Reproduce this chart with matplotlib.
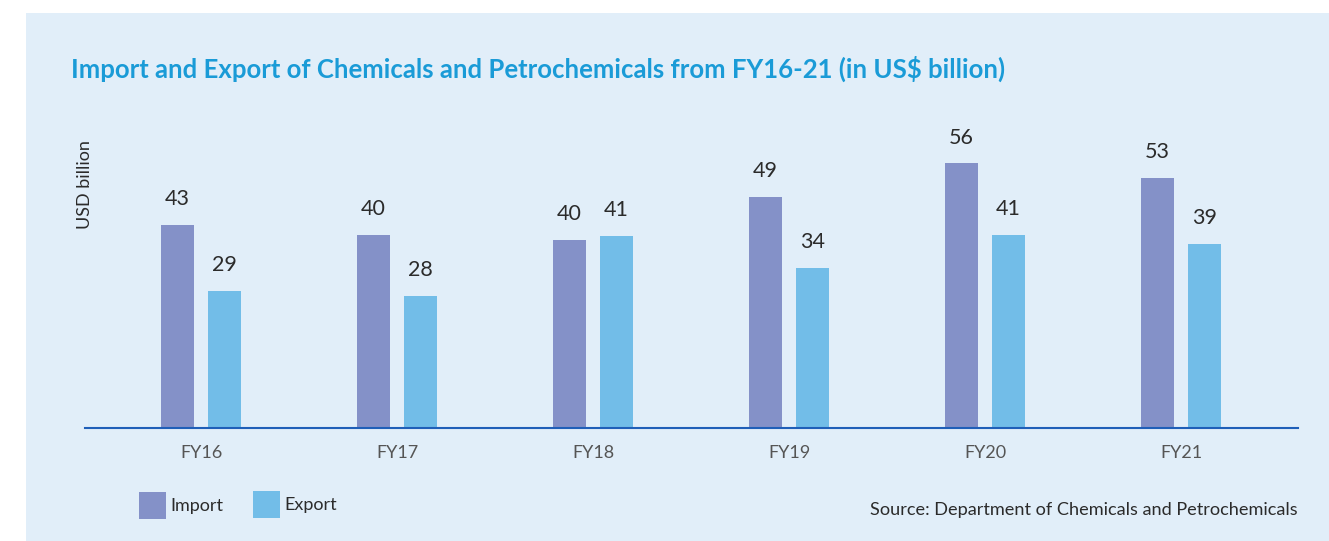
import numpy as np
import matplotlib.pyplot as plt
from matplotlib.patches import Rectangle

# Data (US$ billion): bar heights as drawn, labels as printed
years = ['FY16', 'FY17', 'FY18', 'FY19', 'FY20', 'FY21']
imports = [43.0, 40.9, 39.8, 48.9, 56.1, 53.0]
exports = [29.0, 28.0, 40.7, 33.9, 40.9, 39.0]
import_labels = ['43', '40', '40', '49', '56', '53']
export_labels = ['29', '28', '41', '34', '41', '39']

W, H = 1329, 541
bg = '#e1eef9'
c_imp = '#8491c8'
c_exp = '#72bde8'
txt = '#2b2b2b'

plt.rcParams['font.family'] = ['Lato', 'DejaVu Sans']

fig = plt.figure(figsize=(W / 100, H / 100), dpi=100)
fig.patch.set_facecolor('white')

# light blue panel behind everything
fig.patches.append(Rectangle((26 / W, 0), 1 - 26 / W, 1 - 13 / H,
                             transform=fig.transFigure, facecolor=bg,
                             edgecolor='none', zorder=-5))

ax = fig.add_axes([85 / W, (H - 428) / H, (1298 - 85) / W, (428 - 144.8) / H])
ax.set_facecolor('none')

x = np.arange(len(years))
bw = 0.168
off = 0.12
b1 = ax.bar(x - off, imports, bw, color=c_imp, label='Import', zorder=2)
b2 = ax.bar(x + off, exports, bw, color=c_exp, label='Export', zorder=2)

for bars, vals, labs in ((b1, imports, import_labels), (b2, exports, export_labels)):
    for r, v, lab in zip(bars, vals, labs):
        ax.annotate(lab, (r.get_x() + r.get_width() / 2, v),
                    xytext=(0, 18.5), textcoords='offset points',
                    ha='center', va='center', fontsize=15.5, color=txt)

ax.set_xlim(-0.592, 5.597)
ax.set_ylim(0, 60)
for s in ['top', 'right', 'left']:
    ax.spines[s].set_visible(False)
ax.spines['bottom'].set_color('#1f5fb8')
ax.spines['bottom'].set_linewidth(1.5)
ax.set_yticks([])
ax.set_xticks(x)
ax.set_xticklabels(years, fontsize=13, color='#555555')
ax.tick_params(axis='x', length=0, pad=12)

fig.text(85 / W, 1 - 185 / H, 'USD billion', rotation=90, ha='center',
         va='center', fontsize=13, color=txt)

fig.text(71 / W, 1 - 69 / H,
         'Import and Export of Chemicals and Petrochemicals from FY16-21 (in US$ billion)',
         ha='left', va='center', fontsize=18.5, fontweight='bold', color='#1a9bd7')

# legend: square swatches + labels
for (x0, y0, col, lab) in [(139, 492, c_imp, 'Import'), (253, 491, c_exp, 'Export')]:
    fig.patches.append(Rectangle((x0 / W, 1 - (y0 + 27) / H), 27 / W, 27 / H,
                                 transform=fig.transFigure, facecolor=col,
                                 edgecolor='none'))
    fig.text((x0 + 31) / W, 1 - (y0 + 14) / H, lab, ha='left', va='center',
             fontsize=13, color=txt)

fig.text(1298 / W, 1 - 510 / H, 'Source: Department of Chemicals and Petrochemicals',
         ha='right', va='center', fontsize=13.1, color=txt)

fig.savefig('out.png', dpi=100, facecolor=fig.get_facecolor())
